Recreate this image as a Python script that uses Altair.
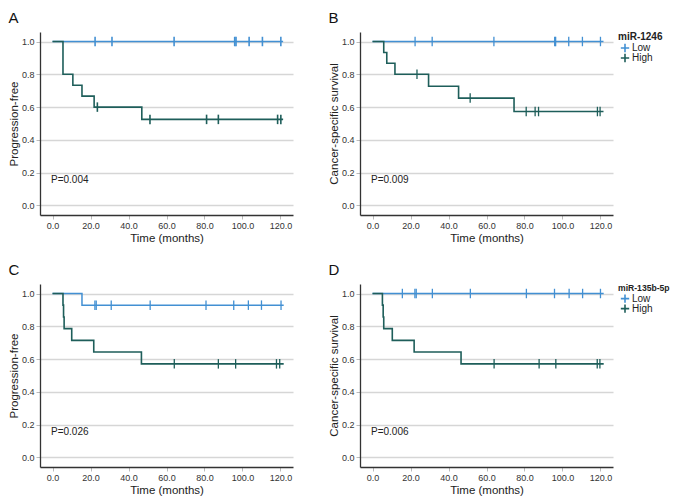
import altair as alt
import pandas as pd

FONT = "Liberation Sans"
LOW_COLOR = "#4290d3"
HIGH_COLOR = "#1e5e5a"
GROUPS = ["Low", "High"]

X_TICKS = [0, 20, 40, 60, 80, 100, 120]
Y_TICKS = [0.0, 0.2, 0.4, 0.6, 0.8, 1.0]

# Panel A : miR-1246, progression-free
A_LOW_T = [0, 121.4]
A_LOW_S = [1.0, 1.0]
A_LOW_CENS = [22.4, 31.3, 64.0, 95.9, 96.6, 103.5, 110.5, 120.2]
A_HIGH_T = [0, 5.5, 10.7, 15.5, 21.9, 47.0, 121.4]
A_HIGH_S = [1.0, 0.8, 0.733, 0.667, 0.6, 0.525, 0.525]
A_HIGH_CENS = [23.6, 51.3, 81.1, 87.3, 118.5, 120.2]

# Panel B : miR-1246, cancer-specific survival
B_LOW_T = [0, 121.6]
B_LOW_S = [1.0, 1.0]
B_LOW_CENS = [22.4, 31.4, 63.9, 95.9, 96.4, 103.3, 110.5, 120.0]
B_HIGH_T = [0, 5.9, 7.5, 11.8, 29.5, 45.3, 74.5, 121.6]
B_HIGH_S = [1.0, 0.933, 0.867, 0.8, 0.727, 0.655, 0.573, 0.573]
B_HIGH_CENS = [23.4, 51.4, 80.9, 85.6, 87.4, 118.4, 119.8]

# Panel C : miR-135b-5p, progression-free
C_LOW_T = [0, 15.5, 121.7]
C_LOW_S = [1.0, 0.929, 0.929]
C_LOW_CENS = [22.3, 23.0, 30.9, 51.4, 80.8, 95.4, 103.1, 110.0, 120.3]
C_HIGH_T = [0, 5.5, 5.8, 6.1, 10.1, 21.7, 46.8, 121.7]
C_HIGH_S = [1.0, 0.929, 0.857, 0.786, 0.714, 0.643, 0.571, 0.571]
C_HIGH_CENS = [64.1, 87.3, 96.4, 117.9, 119.6]

# Panel D : miR-135b-5p, cancer-specific survival
D_LOW_T = [0, 121.7]
D_LOW_S = [1.0, 1.0]
D_LOW_CENS = [15.7, 22.3, 23.0, 31.5, 51.5, 81.0, 95.8, 103.5, 110.6, 120.0]
D_HIGH_T = [0, 5.2, 5.6, 5.9, 10.4, 21.9, 46.6, 121.7]
D_HIGH_S = [1.0, 0.929, 0.857, 0.786, 0.714, 0.643, 0.571, 0.571]
D_HIGH_CENS = [64.0, 87.7, 96.5, 118.3, 119.7]

P_TEXT = {"A": "P=0.004", "B": "P=0.009", "C": "P=0.026", "D": "P=0.006"}
Y_TITLE = {"A": "Progression-free", "B": "Cancer-specific survival",
           "C": "Progression-free", "D": "Cancer-specific survival"}
LEGEND_TITLE = {"B": "miR-1246", "D": "miR-135b-5p"}

W, H = 253, 183
X_DOM = [-6.6, 126.6]
Y_DOM = [-0.058, 1.058]


def step_value(times, surv, t):
    v = surv[0]
    for ti, si in zip(times, surv):
        if ti <= t:
            v = si
    return v


def panel(letter, lt, ls, lc, ht, hs, hc):
    line_df = pd.concat([
        pd.DataFrame({"t": lt, "s": ls, "group": "Low"}),
        pd.DataFrame({"t": ht, "s": hs, "group": "High"}),
    ])
    cens_df = pd.concat([
        pd.DataFrame({"t": lc, "s": [step_value(lt, ls, c) for c in lc], "group": "Low"}),
        pd.DataFrame({"t": hc, "s": [step_value(ht, hs, c) for c in hc], "group": "High"}),
    ])
    if letter in LEGEND_TITLE:
        legend = alt.Legend(
            title=LEGEND_TITLE[letter], orient="right", offset=5, padding=0,
            titleFont=FONT, titleFontSize=10 if letter == "B" else 8.6,
            titleFontWeight="bold", titleColor="#222", titlePadding=1,
            labelFont=FONT, labelFontSize=10, labelColor="#222", labelOffset=2,
            symbolType="M-1,0H1M0,-1V1", symbolSize=70, symbolStrokeWidth=1.6,
            rowPadding=0, symbolOffset=2, clipHeight=10,
        )
    else:
        legend = None
    x = alt.X("t:Q", scale=alt.Scale(domain=X_DOM, nice=False, zero=False),
              axis=alt.Axis(values=X_TICKS, tickCount=10, format=".1f",
                            title="Time (months)", grid=False))
    y = alt.Y("s:Q", scale=alt.Scale(domain=Y_DOM, nice=False, zero=False),
              axis=alt.Axis(values=Y_TICKS, tickCount=10, format=".1f",
                            title=Y_TITLE[letter], grid=True))
    color = alt.Color("group:N", scale=alt.Scale(domain=GROUPS, range=[LOW_COLOR, HIGH_COLOR]),
                      legend=legend)
    low_line = alt.Chart(line_df[line_df.group == "Low"]).mark_line(
        interpolate="step-after", strokeWidth=1.5).encode(x=x, y=y, color=color)
    high_line = alt.Chart(line_df[line_df.group == "High"]).mark_line(
        interpolate="step-after", strokeWidth=1.6).encode(x=x, y=y, color=color)
    cens = alt.Chart(cens_df).mark_point(
        shape="M0,-1V1", size=90, strokeWidth=1.6 if letter == "A" else 1.3,
        filled=False, opacity=1).encode(x=x, y=y, color=color)
    ptxt = alt.Chart(pd.DataFrame({"t": [-0.8], "s": [0.155], "label": [P_TEXT[letter]]})).mark_text(
        align="left", baseline="middle", font=FONT, fontSize=10, color="#222").encode(
        x=alt.X("t:Q"), y=alt.Y("s:Q"), text="label:N")
    return alt.layer(low_line, high_line, cens, ptxt).properties(
        width=W, height=H,
        title=alt.TitleParams(letter, anchor="start", frame="bounds", fontSize=15,
                              fontWeight="normal", font=FONT, color="#111", offset=6),
    )


pa = panel("A", A_LOW_T, A_LOW_S, A_LOW_CENS, A_HIGH_T, A_HIGH_S, A_HIGH_CENS)
pb = panel("B", B_LOW_T, B_LOW_S, B_LOW_CENS, B_HIGH_T, B_HIGH_S, B_HIGH_CENS)
pc = panel("C", C_LOW_T, C_LOW_S, C_LOW_CENS, C_HIGH_T, C_HIGH_S, C_HIGH_CENS)
pd_ = panel("D", D_LOW_T, D_LOW_S, D_LOW_CENS, D_HIGH_T, D_HIGH_S, D_HIGH_CENS)

row1 = alt.hconcat(pa, pb, spacing=35).resolve_scale(color="independent").resolve_legend(color="independent")
row2 = alt.hconcat(pc, pd_, spacing=35).resolve_scale(color="independent").resolve_legend(color="independent")

chart = alt.vconcat(row1, row2, spacing=19).resolve_scale(
    color="independent").resolve_legend(color="independent").properties(
    padding={"top": 3, "left": 0, "right": 0, "bottom": 0}).configure_view(stroke=None).configure_axis(
    labelFont=FONT, labelFontSize=9, labelColor="#333",
    titleFont=FONT, titleFontSize=11.5, titleFontWeight="normal", titleColor="#222",
    domainColor="#333", domainWidth=1.3,
    tickColor="#bbbbbb", tickSize=4, labelPadding=2, titlePadding=2,
    gridColor="#d6d6d6", gridWidth=1.3,
)

chart.save("out.html", embed_options={"renderer": "svg", "actions": False})
